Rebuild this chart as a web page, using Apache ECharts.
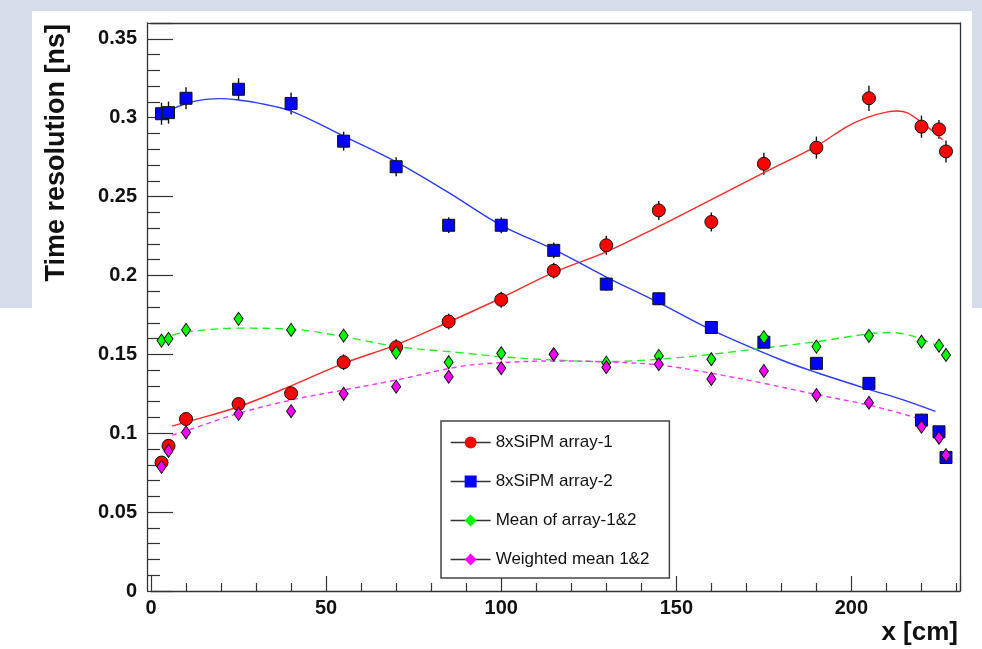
<!DOCTYPE html>
<html><head><meta charset="utf-8">
<script src="https://cdn.jsdelivr.net/npm/echarts@6/dist/echarts.min.js"></script>
<style>html,body{margin:0;padding:0;background:#fff}#chart{width:982px;height:649px}</style>
</head><body><div id="chart"></div>
<script>
// ---- data ----
const positions = [3, 5, 10, 25, 40, 55, 70, 85, 100, 115, 130, 145, 160, 175, 190, 205, 220, 225, 227];

const array1 = [0.0814, 0.092, 0.109, 0.1185, 0.1253, 0.145, 0.1545, 0.1708, 0.1846, 0.203, 0.2191, 0.2412, 0.2339, 0.2708, 0.281, 0.3123, 0.2943, 0.2926, 0.2786];
const array1Err = [0.003, 0.003, 0.004, 0.004, 0.004, 0.005, 0.005, 0.005, 0.005, 0.005, 0.006, 0.006, 0.006, 0.007, 0.007, 0.008, 0.007, 0.006, 0.007];

const array2 = [0.3025, 0.3032, 0.3123, 0.318, 0.309, 0.2851, 0.2689, 0.2318, 0.2318, 0.2159, 0.1945, 0.1852, 0.167, 0.1577, 0.1443, 0.1316, 0.1083, 0.1009, 0.0846];
const array2Err = [0.007, 0.007, 0.007, 0.007, 0.007, 0.006, 0.006, 0.005, 0.005, 0.005, 0.004, 0.004, 0.004, 0.004, 0.004, 0.004, 0.004, 0.003, 0.003];

const meanVals = [0.1587, 0.1598, 0.1655, 0.1725, 0.1655, 0.1619, 0.1511, 0.145, 0.1507, 0.150, 0.1447, 0.149, 0.1469, 0.1609, 0.1549, 0.1617, 0.158, 0.1555, 0.1496];
const weightedVals = [0.0787, 0.0888, 0.1005, 0.1123, 0.114, 0.125, 0.1295, 0.1358, 0.1412, 0.150, 0.1418, 0.1437, 0.1344, 0.1395, 0.1242, 0.1193, 0.1041, 0.0971, 0.0861];

// fit curves
const fit1X = [6, 10, 25, 40, 55, 70, 85, 100, 115, 130, 145, 160, 175, 190, 199, 205, 210, 213, 216, 220, 224, 226];
const fit1Y = [0.1045, 0.107, 0.1168, 0.130, 0.1443, 0.156, 0.1705, 0.1857, 0.2019, 0.2149, 0.2311, 0.2481, 0.2651, 0.282, 0.2947, 0.3005, 0.3035, 0.3042, 0.303, 0.297, 0.290, 0.286];
const fit2X = [3, 5, 10, 15, 20, 25, 30, 40, 55, 70, 85, 100, 115, 130, 145, 160, 180, 190, 205, 215, 224];
const fit2Y = [0.301, 0.3042, 0.309, 0.3114, 0.3121, 0.3112, 0.3095, 0.3042, 0.2883, 0.272, 0.2525, 0.2318, 0.2165, 0.199, 0.1827, 0.1655, 0.1464, 0.1385, 0.1278, 0.121, 0.1138];
const fitMeanX = [6, 10, 25, 40, 55, 70, 88, 100, 115, 130, 145, 160, 175, 180, 190, 205, 211, 216, 220, 224];
const fitMeanY = [0.162, 0.1642, 0.1666, 0.166, 0.1612, 0.155, 0.1511, 0.1485, 0.1464, 0.1454, 0.1469, 0.150, 0.154, 0.1553, 0.158, 0.163, 0.1638, 0.1625, 0.1596, 0.156];
const fitWX = [6, 10, 25, 40, 55, 70, 88, 100, 115, 130, 145, 160, 175, 190, 205, 215, 222];
const fitWY = [0.0988, 0.1015, 0.1126, 0.121, 0.1274, 0.1337, 0.1422, 0.1447, 0.1458, 0.1452, 0.1433, 0.138, 0.1316, 0.1245, 0.1178, 0.112, 0.1073];

const seriesNames = ['8xSiPM array-1', '8xSiPM array-2', 'Mean of array-1&2', 'Weighted mean 1&2'];
const yTitle = 'Time resolution [ns]';
const xTitle = 'x [cm]';

// ---- build ----
const zip = (xs, ys) => xs.map((x, i) => [x, ys[i]]);
const zip3 = (xs, ys, es) => xs.map((x, i) => [x, ys[i], es[i]]);
const FONT = '"Liberation Sans", Arial, sans-serif';

function errSeries(data) {
  return {
    type: 'custom', z: 2, silent: true,
    data: data, encode: { x: 0, y: 1 },
    renderItem: (params, api) => {
      const x = api.value(0), y = api.value(1), e = api.value(2);
      const a = api.coord([x, y + e]);
      const b = api.coord([x, y - e]);
      return { type: 'line', shape: { x1: a[0], y1: a[1], x2: b[0], y2: b[1] },
               style: { stroke: '#111', lineWidth: 1.4 } };
    }
  };
}
function fitSeries(xs, ys, color, type) {
  return {
    type: 'line', z: 2, silent: true, smooth: 0.35, symbol: 'none',
    data: zip(xs, ys),
    lineStyle: { color: color, width: 1.4, type: type }
  };
}
function pointSeries(name, ys, color, symbol, size, z) {
  return {
    name: name, type: 'line', z: z, data: zip(positions, ys),
    symbol: symbol, symbolSize: size, showSymbol: true, showAllSymbol: true,
    lineStyle: { opacity: 0 },
    itemStyle: { color: color, borderColor: '#111', borderWidth: 1 },
    emphasis: { disabled: true }
  };
}

const axisColor = '#333';
const option = {
  backgroundColor: '#ffffff',
  animation: false,
  grid: { left: 151, right: 22, top: 23, bottom: 58, containLabel: false },
  xAxis: [{
    type: 'value', min: 0, max: 231, interval: 50,
    name: xTitle, nameLocation: 'end', nameGap: -2,
    nameTextStyle: { fontFamily: FONT, fontWeight: 'bold', fontSize: 26, color: '#111',
                     align: 'right', verticalAlign: 'top', padding: [29, 0, 0, 0] },
    axisLine: { show: true, onZero: false, lineStyle: { color: axisColor, width: 1.3 } },
    axisTick: { show: true, inside: true, length: 15, lineStyle: { color: axisColor, width: 1.2 } },
    minorTick: { show: true, splitNumber: 5, length: 8, lineStyle: { color: axisColor, width: 1.2 } },
    axisLabel: { fontFamily: FONT, fontWeight: 'bold', fontSize: 20, color: '#111', margin: 7, showMaxLabel: false },
    splitLine: { show: false }
  }, {
    type: 'value', position: 'top', min: 0, max: 231,
    axisLine: { show: true, onZero: false, lineStyle: { color: axisColor, width: 1.3 } },
    axisTick: { show: false }, axisLabel: { show: false }, splitLine: { show: false }
  }],
  yAxis: [{
    type: 'value', min: 0, max: 0.36, interval: 0.05, offset: 4,
    axisLine: { show: true, onZero: false, lineStyle: { color: axisColor, width: 1.3 } },
    axisTick: { show: true, inside: true, length: 26, lineStyle: { color: axisColor, width: 1.2 } },
    minorTick: { show: true, splitNumber: 5, length: 13, lineStyle: { color: axisColor, width: 1.2 } },
    axisLabel: { fontFamily: FONT, fontWeight: 'bold', fontSize: 20, color: '#111', margin: 10, showMaxLabel: false,
                 formatter: v => String(+v.toFixed(2)) },
    splitLine: { show: false }
  }, {
    type: 'value', position: 'right', min: 0, max: 0.36,
    axisLine: { show: true, onZero: false, lineStyle: { color: axisColor, width: 1.3 } },
    axisTick: { show: false }, axisLabel: { show: false }, splitLine: { show: false }
  }],
  legend: {
    data: seriesNames, orient: 'vertical', left: 441, top: 421,
    padding: [13, 20, 10, 9], itemGap: 22, itemWidth: 40, itemHeight: 15,
    backgroundColor: '#fff', borderColor: '#444', borderWidth: 1.5, borderRadius: 0,
    textStyle: { fontFamily: FONT, fontSize: 17, color: '#111' },
    lineStyle: { color: '#333', width: 1.3, opacity: 1, type: 'solid' },
    itemStyle: { borderWidth: 0 },
    selectedMode: false
  },
  graphic: { elements: [
    { type: 'rect', z: -100, silent: true, shape: { x: 0, y: 0, width: 982, height: 308 }, style: { fill: '#d6dce9' } },
    { type: 'rect', z: -99, silent: true, shape: { x: 32, y: 11, width: 940, height: 640 }, style: { fill: '#ffffff' } },
    { type: 'text', z: 10, silent: true, x: 57, y: 24, rotation: Math.PI / 2,
      style: { text: yTitle, fill: '#111', font: 'bold 27px ' + FONT, align: 'right', verticalAlign: 'middle' } }
  ] },
  series: [
    fitSeries(fit1X, fit1Y, '#ff2a2a', 'solid'),
    fitSeries(fit2X, fit2Y, '#2a3cff', 'solid'),
    fitSeries(fitMeanX, fitMeanY, '#22ee22', [8, 5]),
    fitSeries(fitWX, fitWY, '#ff33ff', [5, 4]),
    errSeries(zip3(positions, array1, array1Err)),
    errSeries(zip3(positions, array2, array2Err)),
    pointSeries(seriesNames[0], array1, '#ff0000', 'circle', 13, 3),
    pointSeries(seriesNames[1], array2, '#0000ff', 'rect', 12, 4),
    pointSeries(seriesNames[2], meanVals, '#00ff00', 'diamond', [9, 13], 5),
    pointSeries(seriesNames[3], weightedVals, '#ff00ff', 'diamond', [9, 13], 6)
  ]
};
const chart = echarts.init(document.getElementById('chart'), null, { renderer: 'canvas' });
chart.setOption(option);
</script>
</body></html>
